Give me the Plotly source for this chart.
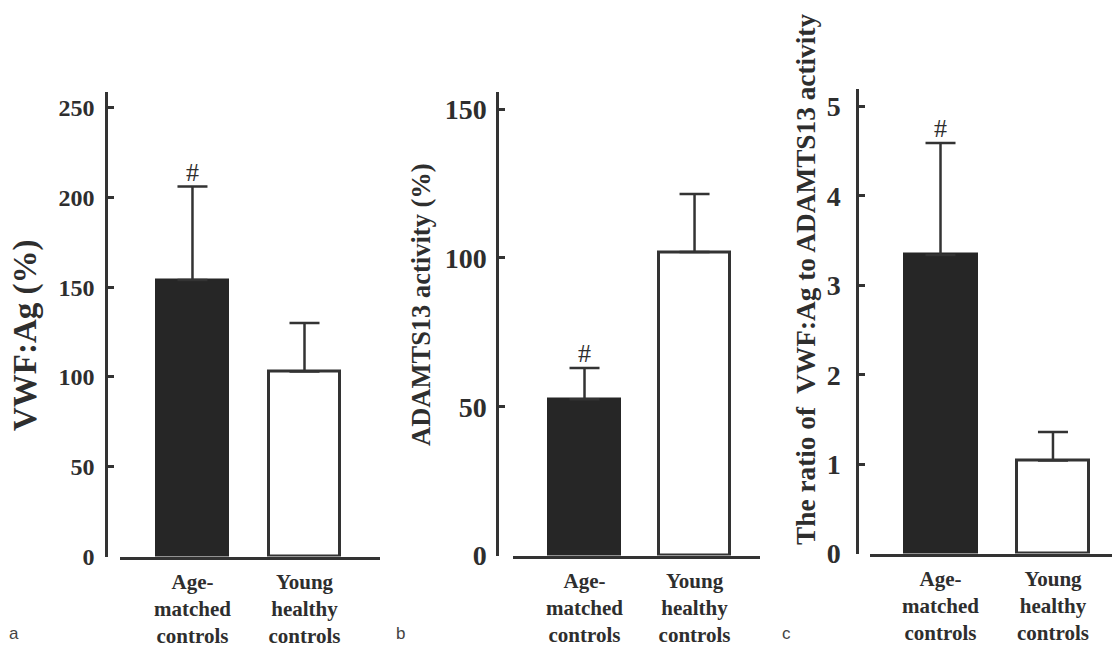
import plotly.graph_objects as go

# ---- data ----
categories = ["Age-<br>matched<br>controls", "Young<br>healthy<br>controls"]
vwf_mean = [154, 103]
vwf_err = [52, 27]
adamts_mean = [52.5, 102]
adamts_err = [10.5, 19.5]
ratio_mean = [3.34, 1.04]
ratio_err = [1.25, 0.32]
sig_marks = ["#", "#", "#"]

vwf_ticks = [0, 50, 100, 150, 200, 250]
adamts_ticks = [0, 50, 100, 150]
ratio_ticks = [0, 1, 2, 3, 4, 5]

# page body has an 8px margin; the page is captured and fitted to 1120x647
OFF = 8
W = 1120 - 2 * OFF
HF = 652
K = 0.973   # measured vertical fit factor of the capture
SERIF = "Liberation Serif, Times New Roman, serif"
TXT = "#2e2e2e"
AX = "#333333"
DARK = "#262626"


def px(x):
    return min(max((x - OFF) / W, 0), 1)


def py(y):
    return min(max(1 - (y / K - OFF) / HF, 0), 1)


fig = go.Figure()

panels = [
    # mean, err, suffix, xdom px, ydom px, yaxis pos px, xrange, yrange, ticks, tick font, standoff
    (vwf_mean, vwf_err, "", (120, 380), (555, 92), 106, [-0.647, 1.674], [0, 258.4], vwf_ticks, 24, 6),
    (adamts_mean, adamts_err, "2", (513, 760), (554, 92), 497, [-0.65, 1.595], [0, 155.6], adamts_ticks, 28, 4),
    (ratio_mean, ratio_err, "3", (870, 1120), (552, 89), 857, [-0.627, 1.596], [0, 5.19], ratio_ticks, 28, 10),
]

layout_axes = {}
for mean, err, sfx, xd, yd, ypos, xr, yr, ticks, tfs, tso in panels:
    xa = "x" + sfx
    ya = "y" + sfx
    x_hi = min(xd[1], 1120 - OFF)
    xr_hi = xr[0] + (xr[1] - xr[0]) * (x_hi - xd[0]) / (xd[1] - xd[0])
    fig.add_trace(go.Bar(
        x=[0, 1], y=mean, xaxis=xa, yaxis=ya, width=0.64,
        marker=dict(color=[DARK, "white"], line=dict(color=[DARK, AX], width=3)),
        error_y=dict(type="data", symmetric=False, array=err, arrayminus=[0, 0],
                     color=AX, thickness=2.5, width=15),
        showlegend=False, hoverinfo="skip",
    ))
    layout_axes["xaxis" + sfx] = dict(
        domain=[px(xd[0]), px(x_hi)], range=[xr[0], xr_hi], anchor=ya,
        showline=True, linecolor=AX, linewidth=2.5, ticks="",
        tickvals=[0, 1], ticktext=categories, showgrid=False, zeroline=False,
        tickfont=dict(family=SERIF, size=21, color=TXT, weight="bold"),
        ticklabelstandoff=4, fixedrange=True,
    )
    layout_axes["yaxis" + sfx] = dict(
        domain=[py(yd[0]), py(yd[1])], range=yr, anchor="free", position=px(ypos),
        showline=True, linecolor=AX, linewidth=2.5, ticks="inside", ticklen=6,
        tickwidth=2.5, tickcolor=AX, tickvals=ticks, showgrid=False, zeroline=False,
        tickfont=dict(family=SERIF, size=tfs, color=TXT, weight="bold"),
        ticklabelstandoff=tso, fixedrange=True,
    )

fig.update_layout(**layout_axes)

# significance marks above error caps
for (mean, err, sfx, *_), mark in zip(panels, sig_marks):
    fig.add_annotation(x=0, y=mean[0] + err[0], xref="x" + sfx, yref="y" + sfx,
                       text=mark, showarrow=False, yanchor="bottom", yshift=-2,
                       font=dict(family=SERIF, size=26, color=TXT))

# rotated axis titles
titles = [("VWF:Ag (%)", 25, 334, 33), ("ADAMTS13 activity (%)", 421, 304, 26.5),
          ("The ratio of  VWF:Ag to ADAMTS13 activity", 806, 279, 27.3)]
for t, x, y, fs in titles:
    fig.add_annotation(x=px(x), y=py(y), xref="paper", yref="paper", text=t,
                       textangle=-90, showarrow=False, xanchor="center", yanchor="middle",
                       font=dict(family=SERIF, size=fs, color=TXT, weight="bold"))

# panel letters
for lab, x in [("a", 14), ("b", 400), ("c", 786)]:
    fig.add_annotation(x=px(x), y=py(632), xref="paper", yref="paper", text=lab,
                       showarrow=False, xanchor="center", yanchor="middle",
                       font=dict(family="Liberation Sans, Arial, sans-serif", size=17, color="#444"))

fig.update_layout(
    width=W, height=HF, margin=dict(l=0, r=0, t=0, b=0),
    plot_bgcolor="white", paper_bgcolor="white", bargap=0,
)

fig.write_html("out.html", config={"displayModeBar": False})
